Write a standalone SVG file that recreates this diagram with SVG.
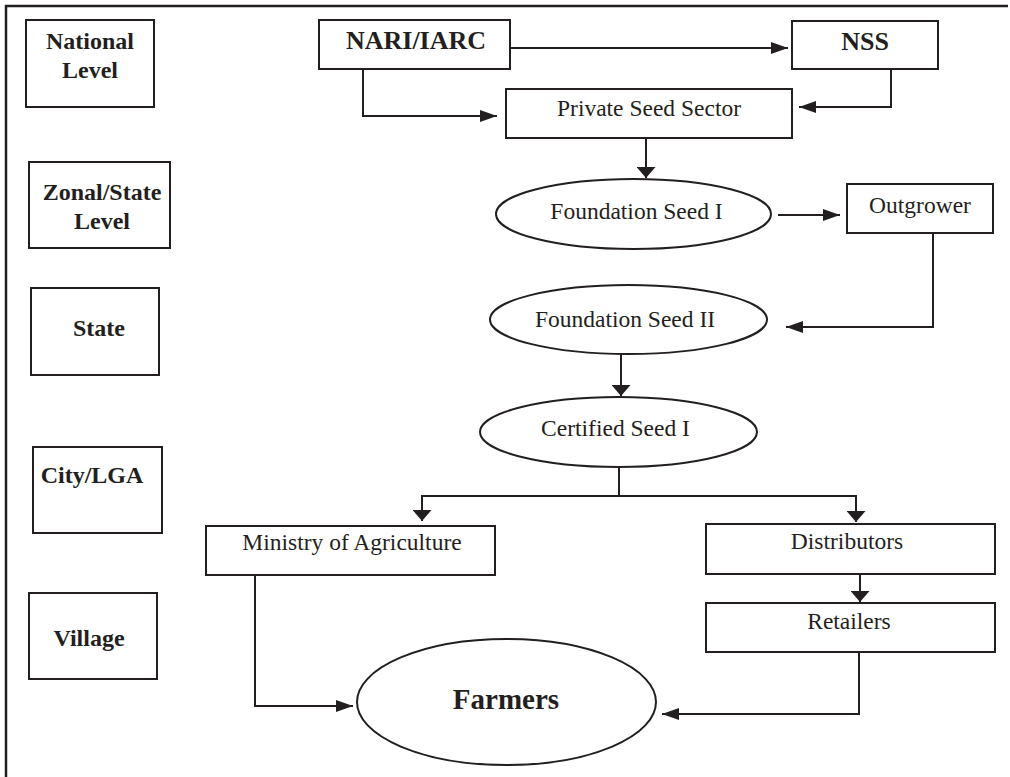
<svg xmlns="http://www.w3.org/2000/svg" width="1010" height="777" viewBox="0 0 1010 777">
<style>
.bx{fill:#fff;stroke:#231f20;stroke-width:2}
.ln{fill:none;stroke:#231f20;stroke-width:2}
.tb{font-family:"Liberation Serif",serif;font-weight:bold;font-size:24px;fill:#231f20;text-anchor:middle}
.tn{font-family:"Liberation Serif",serif;font-size:23.5px;fill:#231f20;text-anchor:middle}
</style>
<defs>
<marker id="ah" markerUnits="userSpaceOnUse" markerWidth="17" markerHeight="12" refX="17" refY="6" orient="auto"><path d="M0,0 L17,6 L0,12 z" fill="#231f20"/></marker>
<marker id="av" markerUnits="userSpaceOnUse" markerWidth="11" markerHeight="19" refX="11" refY="9.5" orient="auto"><path d="M0,0 L11,9.5 L0,19 z" fill="#231f20"/></marker>
</defs>
<rect width="1010" height="777" fill="#fff"/>
<path d="M6,777 V6 H1008" fill="none" stroke="#231f20" stroke-width="2.5"/>
<g id="level-national"><rect class="bx" x="26" y="20" width="128" height="87"/><text class="tb" x="90" y="49">National</text><text class="tb" x="90" y="78">Level</text></g>
<g id="level-zonal"><rect class="bx" x="29" y="162" width="141" height="86"/><text class="tb" x="102" y="200">Zonal/State</text><text class="tb" x="102" y="229">Level</text></g>
<g id="level-state"><rect class="bx" x="31" y="288" width="128" height="87"/><text class="tb" x="99" y="336">State</text></g>
<g id="level-city"><rect class="bx" x="33" y="447" width="129" height="86"/><text class="tb" x="92" y="483">City/LGA</text></g>
<g id="level-village"><rect class="bx" x="29" y="593" width="128" height="86"/><text class="tb" x="89" y="646">Village</text></g>
<g id="nari"><rect class="bx" x="319" y="20" width="191" height="49"/><text class="tb" style="font-size:26px" x="416" y="49">NARI/IARC</text></g>
<g id="nss"><rect class="bx" x="792" y="21" width="146" height="48"/><text class="tb" style="font-size:26px" x="865" y="50">NSS</text></g>
<g id="private"><rect class="bx" x="506" y="89" width="286" height="49"/><text class="tn" x="649" y="116">Private Seed Sector</text></g>
<g id="found1"><ellipse class="bx" cx="633.5" cy="214" rx="137.5" ry="35"/><text class="tn" x="636.5" y="219">Foundation Seed I</text></g>
<g id="outgrower"><rect class="bx" x="847" y="184" width="146" height="49"/><text class="tn" x="920" y="213">Outgrower</text></g>
<g id="found2"><ellipse class="bx" cx="628.5" cy="319.5" rx="138.5" ry="34.5"/><text class="tn" x="625" y="327">Foundation Seed II</text></g>
<g id="cert1"><ellipse class="bx" cx="618.5" cy="432" rx="138.5" ry="35"/><text class="tn" x="615.5" y="436">Certified Seed I</text></g>
<g id="ministry"><rect class="bx" x="206" y="526" width="289" height="49"/><text class="tn" x="352" y="550">Ministry of Agriculture</text></g>
<g id="distributors"><rect class="bx" x="706" y="524" width="289" height="50"/><text class="tn" x="847" y="549">Distributors</text></g>
<g id="retailers"><rect class="bx" x="706" y="603" width="289" height="49"/><text class="tn" x="849" y="629">Retailers</text></g>
<g id="farmers"><ellipse class="bx" cx="506.5" cy="702" rx="149.5" ry="63"/><text class="tb" style="font-size:29px" x="506" y="709">Farmers</text></g>
<g id="connectors">
<path class="ln" d="M510,48 H788" marker-end="url(#ah)"/>
<path class="ln" d="M363,69 V116 H497" marker-end="url(#ah)"/>
<path class="ln" d="M891,69 V107 H799" marker-end="url(#ah)"/>
<path class="ln" d="M646,138 V178" marker-end="url(#av)"/>
<path class="ln" d="M778,215 H840" marker-end="url(#ah)"/>
<path class="ln" d="M933,233 V327 H786" marker-end="url(#ah)"/>
<path class="ln" d="M621,354 V396" marker-end="url(#av)"/>
<path class="ln" d="M619,467 V496"/>
<path class="ln" d="M619,496 H422 V521" marker-end="url(#av)"/>
<path class="ln" d="M619,496 H856 V522" marker-end="url(#av)"/>
<path class="ln" d="M860,574 V602" marker-end="url(#av)"/>
<path class="ln" d="M255,575 V706 H353" marker-end="url(#ah)"/>
<path class="ln" d="M859,652 V714 H662" marker-end="url(#ah)"/>
</g>
</svg>
